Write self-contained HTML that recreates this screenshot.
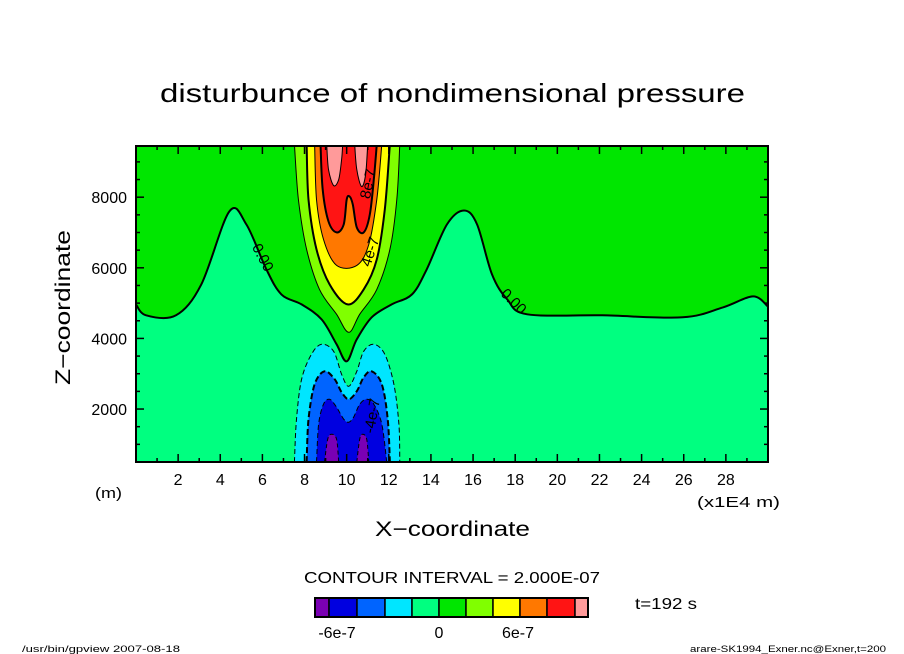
<!DOCTYPE html>
<html><head><meta charset="utf-8"><style>
html,body{margin:0;padding:0;background:#fff;}
svg{display:block;font-family:"Liberation Sans",sans-serif;}
</style></head><body>
<svg id="chart" width="904" height="654" viewBox="0 0 904 654" xmlns="http://www.w3.org/2000/svg">
<defs><clipPath id="plotclip"><rect x="136" y="146" width="632" height="316"/></clipPath></defs>
<rect width="904" height="654" fill="#fff"/>
<text x="160" y="102" font-size="26" textLength="585" lengthAdjust="spacingAndGlyphs">disturbunce of nondimensional pressure</text>
<g id="plot" clip-path="url(#plotclip)"></g>
<g id="axes"></g>
<text transform="translate(70,385) rotate(-90)" font-size="21" textLength="155" lengthAdjust="spacingAndGlyphs">Z−coordinate</text>
<text x="375" y="536" font-size="21" textLength="155" lengthAdjust="spacingAndGlyphs">X−coordinate</text>
<text x="95" y="498" font-size="15" textLength="27" lengthAdjust="spacingAndGlyphs">(m)</text>
<text x="697" y="507" font-size="15" textLength="83" lengthAdjust="spacingAndGlyphs">(x1E4 m)</text>
<text x="304" y="583" font-size="16" textLength="296" lengthAdjust="spacingAndGlyphs">CONTOUR INTERVAL = 2.000E-07</text>
<text x="635" y="609" font-size="16" textLength="62" lengthAdjust="spacingAndGlyphs">t=192 s</text>
<g id="colorbar"></g>
<text x="22" y="652" font-size="9" textLength="158" lengthAdjust="spacingAndGlyphs">/usr/bin/gpview   2007-08-18</text>
<text x="690" y="652" font-size="9" textLength="196" lengthAdjust="spacingAndGlyphs">arare-SK1994_Exner.nc@Exner,t=200</text>
</svg>
<script>
// ---- data (x in 1E4 m, z in m) ----
const levelColors = ["#7a00b4","#0000e0","#0064ff","#00e6ff","#00ff80","#00e600","#80ff00","#ffff00","#ff7800","#ff1414","#ff9a9a"];
const colorbarLabels = ["-6e-7","0","6e-7"];
const xTicks = [2,4,6,8,10,12,14,16,18,20,22,24,26,28];
const yTicks = [2000,4000,6000,8000];
const zeroX = [0,0.48,1.9,3.1,4.43,5.24,6.19,6.9,7.86,8.81,9.52,10.0,10.48,11.19,12.14,13.1,13.8,14.76,15.57,16.19,16.9,17.62,18.57,22.14,25.95,27.86,29.29,30];
const zeroZ = [4965,4654,4654,5531,7596,7228,5955,5248,4965,4540,3833,3352,3975,4597,4965,5248,5955,7228,7624,7228,5814,5106,4682,4654,4597,4880,5191,4900];
const p2X = [7.52,7.71,8.1,8.71,9.52,10.1,10.62,11.43,12.05,12.38,12.52];
const p2Z = [9500,7935,6521,5389,4682,4173,4682,5389,6521,7935,9500];
const p4X = [8.1,8.19,8.57,9.19,10.05,10.81,11.43,11.81,12.05];
const p4Z = [9500,7935,6521,5531,4965,5389,6238,7652,9500];
const p6X = [8.48,8.57,8.9,9.52,10.48,11.05,11.43,11.67];
const p6Z = [9500,7935,6804,6069,6069,6662,7935,9500];
const p8X = [8.76,8.86,9.14,9.52,9.86,10.0,10.14,10.29,10.48,10.81,11.1,11.29,11.43];
const p8Z = [9500,8218,7313,7002,7228,7935,8020,7794,7143,7002,7511,8501,9500];
const p10aX = [9.05,9.14,9.38,9.62,9.76,9.81];
const p10aZ = [9500,8784,8331,8501,9067,9500];
const p10bX = [10.38,10.48,10.71,10.9,11.0];
const p10bZ = [9500,8784,8303,8643,9500];
const n2X = [7.52,7.62,7.86,8.33,8.81,9.38,9.76,10.1,10.48,10.81,11.29,11.81,12.24,12.48,12.52];
const n2Z = [500,1711,2843,3550,3833,3635,2985,2645,3069,3635,3833,3550,2702,1570,500];
const n4X = [8.1,8.19,8.48,8.95,9.43,9.76,10.1,10.48,10.81,11.19,11.67,11.95,12.05];
const n4Z = [500,1711,2702,3069,2843,2475,2277,2504,2900,3069,2702,1711,500];
const n6X = [8.57,8.67,8.9,9.19,9.52,9.86,10.1,10.33,10.62,10.95,11.29,11.67,11.9];
const n6Z = [500,1570,2136,2277,2051,1711,1627,1768,2136,2277,2136,1570,500];
const n8aX = [8.95,9.1,9.29,9.52,9.62];
const n8aZ = [500,1146,1287,1146,500];
const n8bX = [10.48,10.62,10.76,10.95,11.05];
const n8bZ = [500,1146,1287,1146,500];

// ---- scales ----
const X0=136,X1=768,Y0=462,Y1=146, XMIN=0,XMAX=30,ZMIN=500,ZMAX=9450;
const sx = v => X0 + (v-XMIN)/(XMAX-XMIN)*(X1-X0);
const sz = v => Y0 - (v-ZMIN)/(ZMAX-ZMIN)*(Y0-Y1);
const NS="http://www.w3.org/2000/svg";
const plot=document.getElementById('plot');
function mk(tag,attrs,parent){const e=document.createElementNS(NS,tag);for(const k in attrs)e.setAttribute(k,attrs[k]);parent.appendChild(e);return e;}
function smooth(xs,zs){
  const P=xs.map((x,i)=>[sx(x),sz(zs[i])]);
  let d='M'+P[0][0].toFixed(1)+','+P[0][1].toFixed(1);
  for(let i=0;i<P.length-1;i++){
    const p0=P[Math.max(i-1,0)],p1=P[i],p2=P[i+1],p3=P[Math.min(i+2,P.length-1)];
    const c1=[p1[0]+(p2[0]-p0[0])/6,p1[1]+(p2[1]-p0[1])/6];
    const c2=[p2[0]-(p3[0]-p1[0])/6,p2[1]-(p3[1]-p1[1])/6];
    d+=' C'+c1[0].toFixed(1)+','+c1[1].toFixed(1)+' '+c2[0].toFixed(1)+','+c2[1].toFixed(1)+' '+p2[0].toFixed(1)+','+p2[1].toFixed(1);
  }
  return d;
}

mk('rect',{x:X0,y:Y1,width:X1-X0,height:Y0-Y1,fill:levelColors[4]},plot);

const regions=[
 {xs:zeroX,zs:zeroZ,c:5,top:true,w:2,d:null,name:'region-zero'},
 {xs:p2X,zs:p2Z,c:6,w:1,d:null,name:'region-2e-7'},
 {xs:p4X,zs:p4Z,c:7,w:2,d:null,name:'region-4e-7'},
 {xs:p6X,zs:p6Z,c:8,w:1,d:null,name:'region-6e-7'},
 {xs:p8X,zs:p8Z,c:9,w:2,d:null,name:'region-8e-7'},
 {xs:p10aX,zs:p10aZ,c:10,w:1,d:null,name:'region-1e-6-left'},
 {xs:p10bX,zs:p10bZ,c:10,w:1,d:null,name:'region-1e-6-right'},
 {xs:n2X,zs:n2Z,c:3,w:1,d:'5,3',name:'region-neg-2e-7'},
 {xs:n4X,zs:n4Z,c:2,w:2,d:'6,3',name:'region-neg-4e-7'},
 {xs:n6X,zs:n6Z,c:1,w:1,d:'5,3',name:'region-neg-6e-7'},
 {xs:n8aX,zs:n8aZ,c:0,w:1,d:'4,3',name:'region-neg-8e-7-left'},
 {xs:n8bX,zs:n8bZ,c:0,w:1,d:'4,3',name:'region-neg-8e-7-right'}
];
regions.forEach(r=>{
  const d=smooth(r.xs,r.zs);
  let fd=d;
  if(r.top){fd+=' L'+sx(XMAX+1)+','+(Y1-5)+' L'+sx(XMIN-1)+','+(Y1-5);}
  fd+=' Z';
  const poly=mk('path',{d:fd,fill:levelColors[r.c]},plot);
  
  
  const line=mk('path',{d:d,fill:'none',stroke:'#000','stroke-width':r.w,'stroke-linejoin':'round'},plot);
  if(r.d) line.setAttribute('stroke-dasharray',r.d);
  
  
});
// contour labels
const cl=[[262,258,62,'0.00'],[513,302,45,'0.00'],[369,184,-78,'8e-7'],[371,252,-72,'4e-7'],[373,416,-80,'-4e-7']];
cl.forEach(l=>{
  const t=mk('text',{x:0,y:0,'font-size':15,'text-anchor':'middle','dominant-baseline':'middle',transform:`translate(${l[0]},${l[1]}) rotate(${l[2]})`},plot);
  t.textContent=l[3];
  
  
});

// axes
const ax=document.getElementById('axes');
mk('rect',{x:X0,y:Y1,width:X1-X0,height:Y0-Y1,fill:'none',stroke:'#000','stroke-width':2},ax);
for(let v=1;v<30;v++){
  const L=v%2===0?8:4;
  mk('line',{x1:sx(v),x2:sx(v),y1:Y0,y2:Y0-L,stroke:'#000','stroke-width':1.5},ax);
  mk('line',{x1:sx(v),x2:sx(v),y1:Y1,y2:Y1+L,stroke:'#000','stroke-width':1.5},ax);
}
for(let v=1000;v<=9000;v+=500){
  const L=v%2000===0?8:4;
  mk('line',{x1:X0,x2:X0+L,y1:sz(v),y2:sz(v),stroke:'#000','stroke-width':1.5},ax);
  mk('line',{x1:X1,x2:X1-L,y1:sz(v),y2:sz(v),stroke:'#000','stroke-width':1.5},ax);
}
xTicks.forEach(v=>{
  const t=mk('text',{x:sx(v),y:485,'font-size':16,'text-anchor':'middle'},ax);
  t.textContent=v;
  
  
});
yTicks.forEach(v=>{
  const t=mk('text',{x:127,y:sz(v)+6,'font-size':16,'text-anchor':'end'},ax);
  t.textContent=v;
  
  
});

// colorbar
const cb=document.getElementById('colorbar');
const cbX=[315,329,357,385,412,439,466,493,520,547,575,588];
levelColors.forEach((c,i)=>{
  const r=mk('rect',{x:cbX[i],y:598,width:cbX[i+1]-cbX[i],height:19,fill:c,stroke:'#000','stroke-width':1.5},cb);
  
  
});
mk('rect',{x:315,y:598,width:273,height:19,fill:'none',stroke:'#000','stroke-width':2},cb);
const cbLX=[337,439,518];
colorbarLabels.forEach((s,i)=>{
  const t=mk('text',{x:cbLX[i],y:638,'font-size':16,'text-anchor':'middle'},cb);
  t.textContent=s;
  
  
});
</script>
</body></html>
